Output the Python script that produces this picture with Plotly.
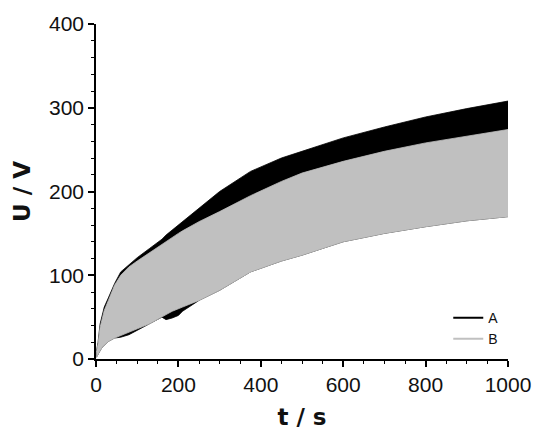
import plotly.graph_objects as go

# time grid (s)
t = [1, 5, 10, 15, 20, 30, 45, 60, 80, 100, 130, 160, 170, 185, 200, 210,
     250, 300, 375, 450, 500, 600, 700, 800, 900, 1000]

# Series A (black) envelope, V
a_upper = [9, 20, 42, 54, 62, 73, 90, 104, 113, 121, 132, 143, 148, 154, 160, 165,
           181, 200, 224, 240, 248, 264, 277, 289, 299, 308]
a_lower = [2, 5, 10, 14, 17, 21, 25, 26, 29, 34, 42, 50, 47, 49, 52, 57,
           70, 82, 104, 117, 124, 140, 150, 158, 165, 170]

# Series B (grey) envelope, V
b_upper = [8, 18, 38, 50, 58, 70, 88, 100, 110, 117, 127, 137, 141, 146, 150, 153,
           164, 176, 195, 212, 222, 236, 248, 258, 266, 274]
b_lower = [2, 5, 10, 14, 17, 21, 25, 28, 32, 36, 42, 50, 53, 57, 60, 62,
           70, 82, 104, 117, 124, 140, 150, 158, 165, 170]

x_ticks = [0, 200, 400, 600, 800, 1000]
y_ticks = [0, 100, 200, 300, 400]

COL_A = "#000000"
COL_B = "#c0c0c0"

fig = go.Figure()


def band(upper, lower, color):
    return go.Scatter(
        x=t + t[::-1], y=upper + lower[::-1],
        fill="toself", fillcolor=color, mode="lines",
        line=dict(color=color, width=0.8),
        showlegend=False, hoverinfo="skip",
    )


fig.add_trace(band(a_upper, a_lower, COL_A))
fig.add_trace(band(b_upper, b_lower, COL_B))

# legend entries
fig.add_trace(go.Scatter(x=[None], y=[None], mode="lines",
                         line=dict(color=COL_A, width=2), name="A"))
fig.add_trace(go.Scatter(x=[None], y=[None], mode="lines",
                         line=dict(color=COL_B, width=2), name="B"))

tick_font = dict(family="Liberation Sans, Arial, sans-serif", size=21, color="#111111")
title_font = dict(family="DejaVu Sans, Verdana, sans-serif", size=23, color="#111111")

fig.update_layout(
    width=550, height=442,
    margin=dict(l=96, r=42, t=24, b=83),
    paper_bgcolor="white", plot_bgcolor="white",
    legend=dict(x=0.855, y=0.17, xanchor="left", yanchor="top",
                bgcolor="rgba(0,0,0,0)",
                font=dict(family="Liberation Sans, Arial, sans-serif", size=14, color="#111111")),
    xaxis=dict(
        range=[0, 1000], tickvals=x_ticks, ticktext=[str(v) for v in x_ticks],
        showgrid=False, zeroline=False, showline=True, linecolor="black", linewidth=1.5,
        ticks="outside", ticklen=6, tickwidth=1.5, tickcolor="black",
        minor=dict(dtick=50, ticks="outside", ticklen=3, tickwidth=1.2, tickcolor="black"),
        tickfont=tick_font,
        title=dict(text="<b>t / s</b>", font=title_font, standoff=14),
    ),
    yaxis=dict(
        range=[0, 400], tickvals=y_ticks, ticktext=[str(v) for v in y_ticks],
        showgrid=False, zeroline=False, showline=True, linecolor="black", linewidth=1.5,
        ticks="outside", ticklen=6, tickwidth=1.5, tickcolor="black",
        minor=dict(dtick=20, ticks="outside", ticklen=3, tickwidth=1.2, tickcolor="black"),
        tickfont=tick_font,
        title=dict(text="<b>U / V</b>", font=title_font, standoff=12),
    ),
)

fig.write_html(
    "out.html",
    config={"displayModeBar": False},
    post_script="document.body.style.margin='0';document.body.style.overflow='hidden';",
)
